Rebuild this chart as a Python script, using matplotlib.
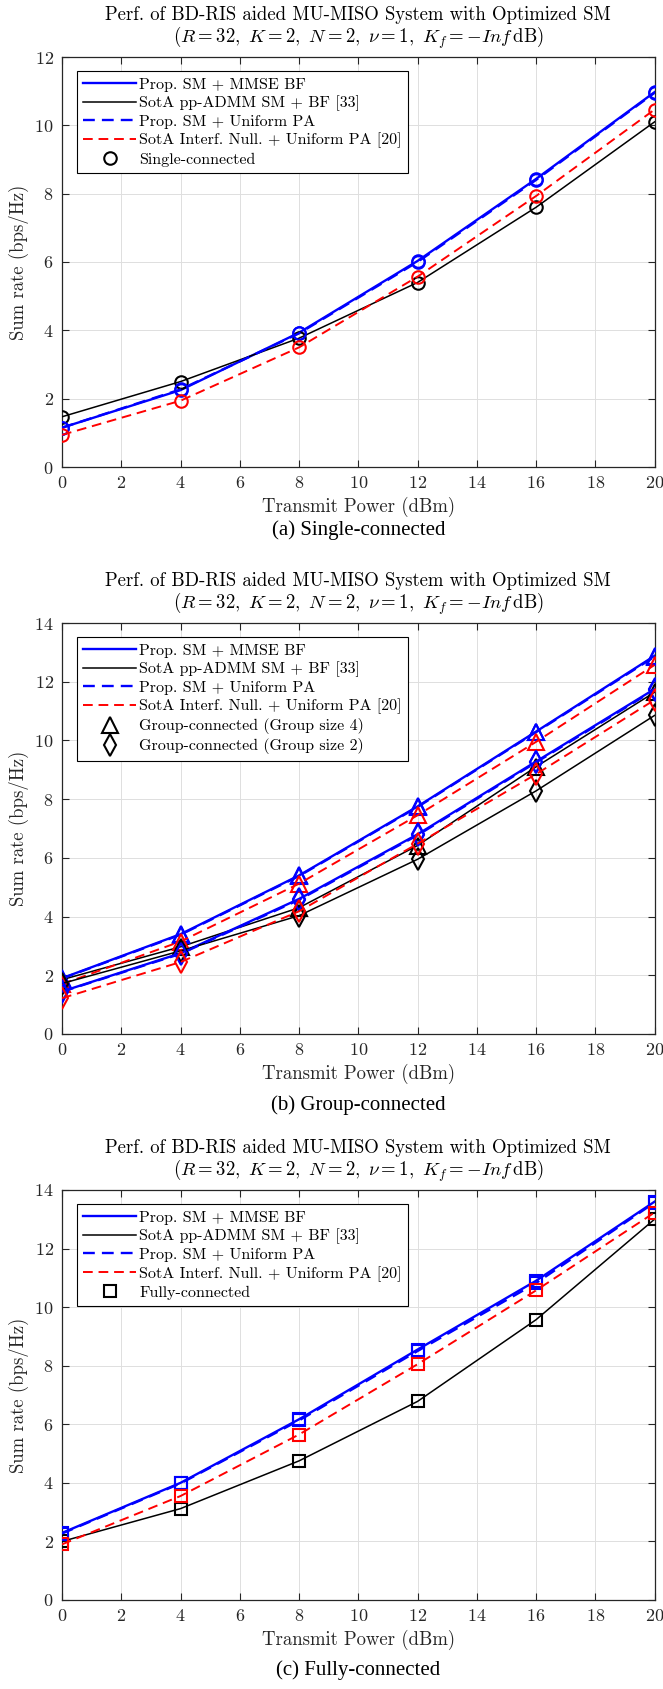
import numpy as np
import matplotlib
matplotlib.use('Agg')
import matplotlib.pyplot as plt
from matplotlib.lines import Line2D

plt.rcParams['font.family'] = ['cmr10', 'DejaVu Serif']
plt.rcParams['mathtext.fontset'] = 'cm'
plt.rcParams['axes.formatter.use_mathtext'] = True

# transmit power (dBm)
power = [0, 4, 8, 12, 16, 20]

# (a) single-connected
single_prop_mmse = [1.15, 2.25, 3.93, 6.03, 8.43, 10.97]
single_sota_admm = [1.47, 2.50, 3.77, 5.40, 7.60, 10.10]
single_prop_upa = [1.15, 2.27, 3.91, 6.00, 8.40, 10.95]
single_sota_null = [0.94, 1.94, 3.50, 5.57, 7.93, 10.46]

# (b) group-connected, group size 4
g4_prop_mmse = [1.90, 3.40, 5.40, 7.75, 10.30, 12.88]
g4_sota_admm = [1.85, 2.97, 4.30, 6.42, 9.10, 11.64]
g4_prop_upa = [1.89, 3.38, 5.38, 7.73, 10.28, 12.85]
g4_sota_null = [1.70, 3.15, 5.12, 7.45, 9.95, 12.57]

# (b) group-connected, group size 2
g2_prop_mmse = [1.45, 2.75, 4.60, 6.80, 9.28, 11.75]
g2_sota_admm = [1.72, 2.83, 4.03, 5.95, 8.28, 10.85]
g2_prop_upa = [1.44, 2.73, 4.57, 6.77, 9.25, 11.72]
g2_sota_null = [1.22, 2.45, 4.18, 6.48, 8.85, 11.38]

# (c) fully-connected
full_prop_mmse = [2.29, 4.00, 6.17, 8.55, 10.90, 13.60]
full_sota_admm = [2.00, 3.12, 4.75, 6.78, 9.57, 13.00]
full_prop_upa = [2.27, 3.98, 6.13, 8.50, 10.82, 13.57]
full_sota_null = [1.90, 3.55, 5.65, 8.05, 10.57, 13.23]

method_labels = ['Prop. SM + MMSE BF', 'SotA pp-ADMM SM + BF [33]',
                 'Prop. SM + Uniform PA', 'SotA Interf. Null. + Uniform PA [20]']
title1 = 'Perf. of BD-RIS aided MU-MISO System with Optimized SM'
title2 = r'$(R=32,\ K=2,\ N=2,\ \nu=1,\ K_f=-Inf\,\mathrm{dB})$'
captions = ['(a) Single-connected', '(b) Group-connected', '(c) Fully-connected']

W, H = 663, 1689
BLUE, RED, GRAY = '#0000ff', '#ff0000', '#262626'
DASH = (5, 3)
styles = [
    dict(color=BLUE, lw=1.7),
    dict(color='black', lw=1.1),
    dict(color=BLUE, lw=1.7, dashes=DASH),
    dict(color=RED, lw=1.4, dashes=DASH),
]
msize = {'o': 9, '^': 11, 'd': 11, 's': 8.5}

fig = plt.figure(figsize=(W / 100, H / 100), dpi=100)


def fy(y):
    return 1 - y / H


def panel(top, bottom, ymax, groups, marker_entries, caption, cap_y):
    x0, x1 = 62, 654.5
    ax = fig.add_axes([x0 / W, fy(bottom), (x1 - x0) / W, (bottom - top) / H])
    for mk, series in groups:
        for vals, st in zip(series, styles):
            mcol = st['color']
            ax.plot(power, vals, marker=mk, ms=msize[mk], mfc='none', mec=mcol,
                    mew=1.5, zorder=3, **st)
    ax.set_xlim(0, 20)
    ax.set_ylim(0, ymax)
    ax.set_xticks(np.arange(0, 21, 2))
    ax.set_yticks(np.arange(0, ymax + 1, 2))
    ax.grid(True, color='#dedede', lw=0.7)
    ax.set_axisbelow(True)
    ax.tick_params(direction='in', top=True, right=True, length=5, width=0.8,
                   colors=GRAY, labelsize=13, pad=6)
    for sp in ax.spines.values():
        sp.set_color(GRAY)
        sp.set_linewidth(0.9)
    ax.set_xlabel('Transmit Power (dBm)', fontsize=13.5, color=GRAY, labelpad=4)
    ax.set_ylabel('Sum rate (bps/Hz)', fontsize=13.5, color=GRAY, labelpad=4)

    fig.text(0.5 * (x0 + x1) / W, fy(top - 42), title1, ha='center', va='center',
             fontsize=13.5)
    fig.text(0.5 * (x0 + x1) / W, fy(top - 19), title2, ha='center', va='center',
             fontsize=13.5)
    fig.text(0.5 * (x0 + x1) / W, fy(cap_y), caption, ha='center',
             va='center', fontsize=15, family='Liberation Serif')

    handles = [Line2D([], [], **st) for st in styles]
    labels = list(method_labels)
    for mk, lab in marker_entries:
        handles.append(Line2D([], [], ls='none', marker=mk, ms=msize[mk], mfc='none',
                              mec='black', mew=1.5))
        labels.append(lab)
    leg = ax.legend(handles, labels, loc='upper left',
                    bbox_to_anchor=(77 / W, fy(top + 14)),
                    bbox_transform=fig.transFigure, fontsize=11.5, frameon=True,
                    fancybox=False, edgecolor='black', framealpha=1,
                    borderaxespad=0, handlelength=3.3, handletextpad=0.2,
                    labelspacing=0.24, borderpad=0.4)
    leg.get_frame().set_linewidth(0.8)
    return ax


panel(57, 467, 12,
      [('o', [single_prop_mmse, single_sota_admm, single_prop_upa, single_sota_null])],
      [('o', 'Single-connected')], captions[0], 530)
panel(623, 1034, 14,
      [('^', [g4_prop_mmse, g4_sota_admm, g4_prop_upa, g4_sota_null]),
       ('d', [g2_prop_mmse, g2_sota_admm, g2_prop_upa, g2_sota_null])],
      [('^', 'Group-connected (Group size 4)'), ('d', 'Group-connected (Group size 2)')],
      captions[1], 1105)
panel(1190, 1600, 14,
      [('s', [full_prop_mmse, full_sota_admm, full_prop_upa, full_sota_null])],
      [('s', 'Fully-connected')], captions[2], 1670)

fig.savefig('out.png', dpi=100)
